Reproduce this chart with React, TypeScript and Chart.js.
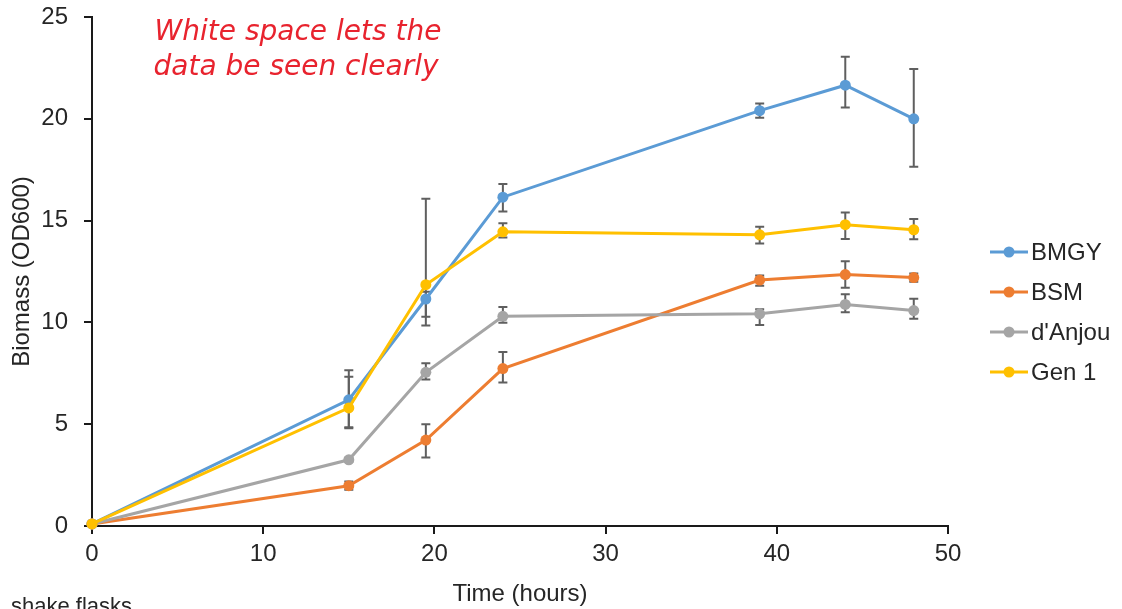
import React, { useEffect, useRef } from "react";
import { Chart, registerables } from "chart.js";

Chart.register(...registerables);

const hours = [0, 15, 19.5, 24, 39, 44, 48];

const seriesNames = ["BMGY", "BSM", "d'Anjou", "Gen 1"];
const seriesColors = ["#5B9BD5", "#ED7D31", "#A5A5A5", "#FFC000"];

const bmgy = [0.1, 6.2, 11.15, 16.15, 20.4, 21.65, 20.0];
const bmgyUp = [0.05, 1.45, 0.36, 0.65, 0.35, 1.4, 2.45];
const bmgyDown = [0.05, 1.4, 0.87, 0.7, 0.35, 1.1, 2.35];

const bsm = [0.1, 1.98, 4.22, 7.73, 12.08, 12.35, 12.2];
const bsmUp = [0.05, 0.2, 0.78, 0.82, 0.22, 0.65, 0.2];
const bsmDown = [0.05, 0.2, 0.85, 0.68, 0.28, 0.65, 0.2];

const danjou = [0.1, 3.25, 7.55, 10.3, 10.42, 10.88, 10.58];
const danjouUp = [0.05, 0.1, 0.44, 0.46, 0.22, 0.5, 0.58];
const danjouDown = [0.05, 0.1, 0.35, 0.32, 0.55, 0.38, 0.4];

const gen1 = [0.1, 5.8, 11.85, 14.45, 14.3, 14.8, 14.55];
const gen1Up = [0.05, 1.53, 4.22, 0.42, 0.4, 0.6, 0.53];
const gen1Down = [0.05, 0.95, 2.0, 0.28, 0.42, 0.7, 0.46];

const xTicks = [0, 10, 20, 30, 40, 50];
const yTicks = [0, 5, 10, 15, 20, 25];

const annotationLines = ["White space lets the", "data be seen clearly"];
const footnote = "shake flasks";

const FONT = "'Liberation Sans', Arial, sans-serif";

const values = [bmgy, bsm, danjou, gen1];
const ups = [bmgyUp, bsmUp, danjouUp, gen1Up];
const downs = [bmgyDown, bsmDown, danjouDown, gen1Down];

const errorBarPlugin = {
  id: "errorBars",
  beforeDatasetsDraw(chart: any) {
    const ctx = chart.ctx;
    const yScale = chart.scales.y;
    ctx.save();
    ctx.strokeStyle = "#5f5f5f";
    ctx.lineWidth = 2;
    chart.data.datasets.forEach((ds: any, i: number) => {
      const meta = chart.getDatasetMeta(i);
      meta.data.forEach((pt: any, j: number) => {
        const v = values[i][j];
        const yT = yScale.getPixelForValue(v + ups[i][j]);
        const yB = yScale.getPixelForValue(v - downs[i][j]);
        const x = pt.x;
        ctx.beginPath();
        ctx.moveTo(x, yT);
        ctx.lineTo(x, yB);
        ctx.moveTo(x - 4.5, yT);
        ctx.lineTo(x + 4.5, yT);
        ctx.moveTo(x - 4.5, yB);
        ctx.lineTo(x + 4.5, yB);
        ctx.stroke();
      });
    });
    ctx.restore();
  },
};

const extrasPlugin = {
  id: "extras",
  afterDraw(chart: any) {
    const ctx = chart.ctx;
    ctx.save();
    // annotation
    ctx.fillStyle = "#E8232E";
    ctx.font = "oblique 28px 'DejaVu Sans', sans-serif";
    ctx.textAlign = "center";
    ctx.textBaseline = "middle";
    ctx.fillText(annotationLines[0], 298, 33);
    ctx.fillText(annotationLines[1], 296, 68);
    // footnote
    ctx.fillStyle = "#262626";
    ctx.font = "22px " + FONT;
    ctx.textAlign = "left";
    ctx.textBaseline = "alphabetic";
    ctx.fillText(footnote, 11, 613);
    // legend
    const lx = 990;
    const ly = 252;
    const step = 40;
    ctx.font = "24px " + FONT;
    ctx.textBaseline = "middle";
    chart.data.datasets.forEach((ds: any, i: number) => {
      const y = ly + i * step;
      ctx.strokeStyle = ds.borderColor;
      ctx.lineWidth = 3;
      ctx.beginPath();
      ctx.moveTo(lx, y);
      ctx.lineTo(lx + 38, y);
      ctx.stroke();
      ctx.fillStyle = ds.borderColor;
      ctx.beginPath();
      ctx.arc(lx + 19, y, 5.5, 0, Math.PI * 2);
      ctx.fill();
      ctx.fillStyle = "#262626";
      ctx.fillText(ds.label, lx + 41, y + 1);
    });
    ctx.restore();
  },
};

export default function App() {
  const ref = useRef<HTMLCanvasElement | null>(null);
  useEffect(() => {
    if (!ref.current) return;
    const datasets = seriesNames.map((name, i) => ({
      label: name,
      data: hours.map((h, j) => ({ x: h, y: values[i][j] })),
      borderColor: seriesColors[i],
      backgroundColor: seriesColors[i],
      pointBackgroundColor: seriesColors[i],
      pointBorderColor: seriesColors[i],
      pointRadius: 5.5,
      pointBorderWidth: 0,
      borderWidth: 3,
      tension: 0,
      clip: false as any,
      order: 4 - i,
    }));
    const chart = new Chart(ref.current, {
      type: "line",
      data: { datasets },
      options: {
        animation: false,
        responsive: false,
        maintainAspectRatio: false,
        layout: { padding: { top: 17, right: 174, left: 0, bottom: 0 } },
        plugins: {
          legend: { display: false },
          tooltip: { enabled: false },
        },
        scales: {
          x: {
            type: "linear",
            min: 0,
            max: 50,
            afterFit: (s: any) => {
              s.height = 83;
              s.paddingLeft = 0;
              s.paddingRight = 0;
            },
            afterBuildTicks: (s: any) => {
              s.ticks = xTicks.map((v) => ({ value: v }));
            },
            grid: {
              drawOnChartArea: false,
              drawTicks: true,
              tickLength: 8,
              color: "#1a1a1a",
              lineWidth: 2,
            },
            border: { display: true, color: "#1a1a1a", width: 2 },
            ticks: {
              color: "#262626",
              font: { family: FONT, size: 24 },
              padding: 6,
              maxRotation: 0,
            },
            title: {
              display: true,
              text: "Time (hours)",
              color: "#262626",
              font: { family: FONT, size: 24 },
              padding: { top: 0, bottom: 0 },
            },
          },
          y: {
            type: "linear",
            min: 0,
            max: 25,
            afterFit: (s: any) => {
              s.width = 92;
              s.paddingTop = 0;
              s.paddingBottom = 0;
            },
            afterBuildTicks: (s: any) => {
              s.ticks = yTicks.map((v) => ({ value: v }));
            },
            grid: {
              drawOnChartArea: false,
              drawTicks: true,
              tickLength: 8,
              color: "#1a1a1a",
              lineWidth: 2,
            },
            border: { display: true, color: "#1a1a1a", width: 2 },
            ticks: {
              color: "#262626",
              font: { family: FONT, size: 24 },
              padding: 16,
            },
            title: {
              display: true,
              text: "Biomass (OD600)",
              color: "#262626",
              font: { family: FONT, size: 24 },
              padding: { top: 8, bottom: 0 },
            },
          },
        },
      },
      plugins: [errorBarPlugin, extrasPlugin],
    });
    return () => chart.destroy();
  }, []);
  return (
    <div style={{ position: "fixed", left: 0, top: 0, width: 1122, height: 609, background: "#fff" }}>
      <canvas ref={ref} width={1122} height={609} style={{ display: "block", width: 1122, height: 609 }} />
    </div>
  );
}
